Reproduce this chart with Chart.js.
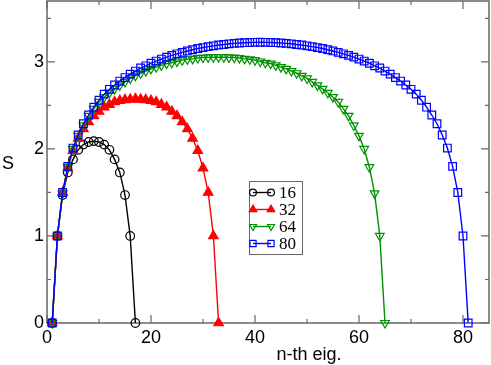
<!DOCTYPE html>
<html lang="en">
<head>
<meta charset="UTF-8">
<title>S vs n-th eig.</title>
<script src="https://cdn.jsdelivr.net/npm/chart.js@4.4.1/dist/chart.umd.min.js"></script>
<style>
  html, body { margin: 0; padding: 0; background: #fff; }
</style>
</head>
<body>
<canvas id="myChart" width="491" height="365"></canvas>
<script>
// legend labels (system sizes)
const sizes = ['16', '32', '64', '80'];

// S for the n-th eigenvalue, n = 1, 2, ...
const s16 = [0, 1.00, 1.47, 1.73, 1.88, 1.99, 2.05, 2.08, 2.09, 2.08, 2.05, 1.99, 1.88, 1.73, 1.47, 1.00, 0];

const s32 = [0, 1.00, 1.50, 1.78, 1.98, 2.12, 2.23, 2.31, 2.38, 2.43, 2.48, 2.51, 2.54, 2.555, 2.565, 2.57, 2.575,
  2.57, 2.565, 2.555, 2.54, 2.51, 2.48, 2.43, 2.38, 2.31, 2.23, 2.12, 1.98, 1.78, 1.50, 1.00, 0];

const s64 = [0, 1.00, 1.49, 1.79, 2.00, 2.15, 2.27, 2.38, 2.46, 2.54, 2.595, 2.645, 2.69, 2.73, 2.77, 2.81, 2.84,
  2.87, 2.895, 2.92, 2.94, 2.96, 2.98, 2.99, 3.005, 3.02, 3.03, 3.035, 3.045, 3.05, 3.052, 3.054, 3.055,
  3.054, 3.052, 3.05, 3.045, 3.035, 3.03, 3.02, 3.005, 2.99, 2.98, 2.96, 2.94, 2.92, 2.895, 2.87, 2.84,
  2.81, 2.77, 2.73, 2.69, 2.645, 2.595, 2.54, 2.46, 2.38, 2.27, 2.15, 2.00, 1.79, 1.49, 1.00, 0];

const s80 = [0, 1.00, 1.50, 1.80, 2.01, 2.16, 2.29, 2.39, 2.48, 2.56, 2.63, 2.685, 2.735, 2.78, 2.82, 2.86, 2.895,
  2.93, 2.955, 2.985, 3.01, 3.033, 3.055, 3.075, 3.093, 3.11, 3.126, 3.14, 3.154, 3.165, 3.176, 3.185, 3.194,
  3.20, 3.208, 3.213, 3.217, 3.221, 3.223, 3.225, 3.226,
  3.225, 3.223, 3.221, 3.217, 3.213, 3.208, 3.20, 3.194, 3.185, 3.176, 3.165, 3.154, 3.14, 3.126, 3.11, 3.093,
  3.075, 3.055, 3.033, 3.01, 2.985, 2.955, 2.93, 2.895, 2.86, 2.82, 2.78, 2.735, 2.685, 2.63, 2.56, 2.48,
  2.39, 2.29, 2.16, 2.01, 1.80, 1.50, 1.00, 0];

// axis ticks
const xTicks = [0, 20, 40, 60, 80];
const xMinor = [10, 30, 50, 70];
const yTicks = [0, 1, 2, 3];
const yMinor = [0.5, 1.5, 2.5, 3.5];

const GREEN = 'rgb(0,145,0)';
const sansFont = '"Liberation Sans", Arial, sans-serif';

function pts(arr) {
  return arr.map((v, i) => ({x: i + 1, y: v}));
}

const styles = [
  {color: '#000', style: 'circle', radius: 4.3, rot: 0, fill: 'rgba(0,0,0,0)'},
  {color: '#f00', style: 'triangle', radius: 5.5, rot: 0, fill: '#f00'},
  {color: GREEN, style: 'triangle', radius: 5, rot: 180, fill: 'rgba(0,0,0,0)'},
  {color: '#00f', style: 'rect', radius: 5.4, rot: 0, fill: 'rgba(0,0,0,0)'}
];
const series = [s16, s32, s64, s80];

// frame + inward ticks on all four sides, axis titles, boxed legend
const framePlugin = {
  id: 'frame',
  beforeDatasetsDraw(chart) {
    const {ctx, chartArea: a, scales: {x, y}} = chart;
    ctx.save();
    ctx.strokeStyle = '#666';
    ctx.lineWidth = 1.5;
    ctx.strokeRect(a.left, a.top, a.right - a.left, a.bottom - a.top);
    ctx.lineWidth = 1.2;
    ctx.beginPath();
    const xt = (v, len) => {
      const px = x.getPixelForValue(v);
      ctx.moveTo(px, a.bottom); ctx.lineTo(px, a.bottom - len);
      ctx.moveTo(px, a.top); ctx.lineTo(px, a.top + len);
    };
    const yt = (v, len) => {
      const py = y.getPixelForValue(v);
      ctx.moveTo(a.left, py); ctx.lineTo(a.left + len, py);
      ctx.moveTo(a.right, py); ctx.lineTo(a.right - len, py);
    };
    xTicks.forEach(v => xt(v, 8));
    xMinor.forEach(v => xt(v, 4));
    yTicks.forEach(v => yt(v, 8));
    yMinor.forEach(v => yt(v, 4));
    ctx.stroke();
    ctx.restore();
  },
  afterDraw(chart) {
    const {ctx} = chart;
    ctx.save();
    // axis titles
    ctx.fillStyle = '#000';
    ctx.font = '18px ' + sansFont;
    ctx.textAlign = 'center';
    ctx.textBaseline = 'middle';
    ctx.fillText('S', 8, 164);
    ctx.fillText('n-th eig.', 309, 355);

    // legend
    const box = {left: 249, top: 181, right: 302, bottom: 254};
    ctx.fillStyle = '#fff';
    ctx.fillRect(box.left, box.top, box.right - box.left, box.bottom - box.top);
    ctx.strokeStyle = '#666';
    ctx.lineWidth = 1;
    ctx.strokeRect(box.left + 0.5, box.top + 0.5, box.right - box.left, box.bottom - box.top);
    ctx.font = '17px "Liberation Serif", "Times New Roman", serif';
    ctx.textAlign = 'left';
    sizes.forEach((lab, i) => {
      const st = styles[i];
      const yy = 192.5 + i * 17;
      ctx.strokeStyle = st.color;
      ctx.lineWidth = 1.4;
      ctx.beginPath();
      ctx.moveTo(253, yy); ctx.lineTo(271, yy);
      ctx.stroke();
      ctx.fillStyle = st.fill;
      ctx.lineWidth = 1.2;
      [253, 271].forEach(px => {
        Chart.helpers.drawPoint(ctx, {pointStyle: st.style, radius: st.radius * 0.8, rotation: st.rot, borderWidth: 1.2}, px, yy);
      });
      ctx.fillStyle = '#000';
      ctx.fillText(lab, 279, yy + 1);
    });
    ctx.restore();
  }
};

const ctx = document.getElementById('myChart');

new Chart(ctx, {
  type: 'line',
  data: {
    datasets: series.map((arr, i) => ({
      label: sizes[i],
      data: pts(arr),
      borderColor: styles[i].color,
      borderWidth: 1.4,
      backgroundColor: styles[i].fill,
      pointStyle: styles[i].style,
      pointRotation: styles[i].rot,
      pointRadius: styles[i].radius,
      pointBorderWidth: 1.2,
      pointBorderColor: styles[i].color,
      pointBackgroundColor: styles[i].fill,
      fill: false,
      tension: 0,
      clip: false,
      order: 3 - i
    }))
  },
  options: {
    responsive: false,
    animation: false,
    events: [],
    layout: {autoPadding: false, padding: {left: 0, right: 2, top: 1, bottom: 0}},
    plugins: {legend: {display: false}, tooltip: {enabled: false}},
    scales: {
      x: {
        type: 'linear',
        min: 0,
        max: 85,
        afterBuildTicks: s => { s.ticks = xTicks.map(v => ({value: v})); },
        afterFit: s => { s.height = 42; s.paddingLeft = 0; s.paddingRight = 0; },
        grid: {display: false, drawTicks: false},
        border: {display: false},
        ticks: {color: '#000', padding: 4, maxRotation: 0, font: {family: sansFont, size: 18}}
      },
      y: {
        type: 'linear',
        min: 0,
        max: 3.7,
        afterBuildTicks: s => { s.ticks = yTicks.map(v => ({value: v})); },
        afterFit: s => { s.width = 47; s.paddingTop = 0; s.paddingBottom = 0; },
        grid: {display: false, drawTicks: false},
        border: {display: false},
        ticks: {color: '#000', padding: 3, font: {family: sansFont, size: 18}}
      }
    }
  },
  plugins: [framePlugin]
});
</script>
</body>
</html>
